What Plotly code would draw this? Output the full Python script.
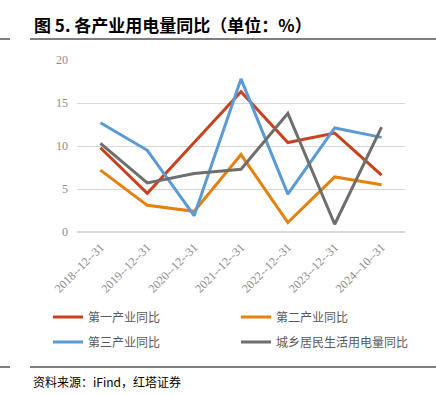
import plotly.graph_objects as go

categories = ["2018-12-31", "2019-12-31", "2020-12-31", "2021-12-31", "2022-12-31", "2023-12-31", "2024-10-31"]
primary = [9.8, 4.5, 10.4, 16.3, 10.4, 11.5, 6.6]
secondary = [7.2, 3.1, 2.4, 9.0, 1.1, 6.4, 5.5]
tertiary = [12.7, 9.5, 1.9, 17.8, 4.4, 12.1, 11.0]
residential = [10.3, 5.7, 6.8, 7.3, 13.8, 0.9, 12.2]
names = ["第一产业同比", "第二产业同比", "第三产业同比", "城乡居民生活用电量同比"]
colors = ["#C9421F", "#E6800F", "#5A9BD5", "#6E6E6E"]
series = [primary, secondary, tertiary, residential]
tick_labels = [c.replace("-", "--") for c in categories]
legend_ids = ["legend", "legend", "legend2", "legend2"]

W, H = 436, 395
L, R, T, B = 77, 31, 60, 163
PW, PH = W - L - R, H - T - B


def px(x):
    return (x - L) / PW


def py(y):
    return (H - B - y) / PH


fig = go.Figure()
for n, c, s, lg in zip(names, colors, series, legend_ids):
    fig.add_trace(go.Scatter(x=categories, y=s, name=n, mode="lines", legend=lg,
                             line=dict(color=c, width=3)))

cjk = "Noto Sans CJK SC"
leg_common = dict(orientation="h", xanchor="left", yanchor="middle",
                  entrywidth=143, entrywidthmode="pixels",
                  font=dict(family=cjk, size=12, color="#595959"),
                  itemwidth=30, bgcolor="rgba(0,0,0,0)")
fig.update_layout(
    width=W, height=H, autosize=False,
    margin=dict(l=L, r=R, t=T, b=B, pad=0),
    plot_bgcolor="white", paper_bgcolor="white",
    showlegend=True,
    legend=dict(x=px(48), y=py(317), **leg_common),
    legend2=dict(x=px(48), y=py(342), **leg_common),
    xaxis=dict(type="category", tickmode="array", tickvals=categories, ticktext=tick_labels,
               range=[-0.5, len(categories) - 0.5],
               tickangle=-45, showgrid=False, showline=False, ticks="", automargin=False,
               ticklabelstandoff=5,
               tickfont=dict(family="Liberation Serif", size=12, color="#8c8c8c")),
    yaxis=dict(range=[0, 20], tickvals=[0, 5, 10, 15, 20], showgrid=True, automargin=False,
               gridcolor="#D9D9D9", gridwidth=1, zeroline=True, zerolinecolor="#D9D9D9",
               showline=False, ticks="", ticklabelstandoff=8,
               tickfont=dict(family="Liberation Serif", size=12, color="#8c8c8c")),
    annotations=[
        dict(text="<b>图 5. 各产业用电量同比（单位：%）</b>", xref="paper", yref="paper",
             x=px(32), y=py(24), xanchor="left", yanchor="middle",
             showarrow=False, font=dict(family=cjk, size=17, color="#000000")),
        dict(text="资料来源：iFind，红塔证券", xref="paper", yref="paper",
             x=px(31), y=py(381), xanchor="left", yanchor="middle",
             showarrow=False, font=dict(family=cjk, size=12, color="#000000")),
    ],
    shapes=[
        dict(type="line", xref="paper", yref="paper", x0=px(0), x1=px(10),
             y0=py(39), y1=py(39), line=dict(color="#000", width=1)),
        dict(type="line", xref="paper", yref="paper", x0=px(30), x1=px(436),
             y0=py(39), y1=py(39), line=dict(color="#000", width=1)),
        dict(type="line", xref="paper", yref="paper", x0=px(0), x1=px(10),
             y0=py(367), y1=py(367), line=dict(color="#000", width=1)),
        dict(type="line", xref="paper", yref="paper", x0=px(30), x1=px(436),
             y0=py(367), y1=py(367), line=dict(color="#000", width=1)),
    ],
)

fig.write_html("out.html", config={"displayModeBar": False},
               post_script="document.body.style.margin='0';")
